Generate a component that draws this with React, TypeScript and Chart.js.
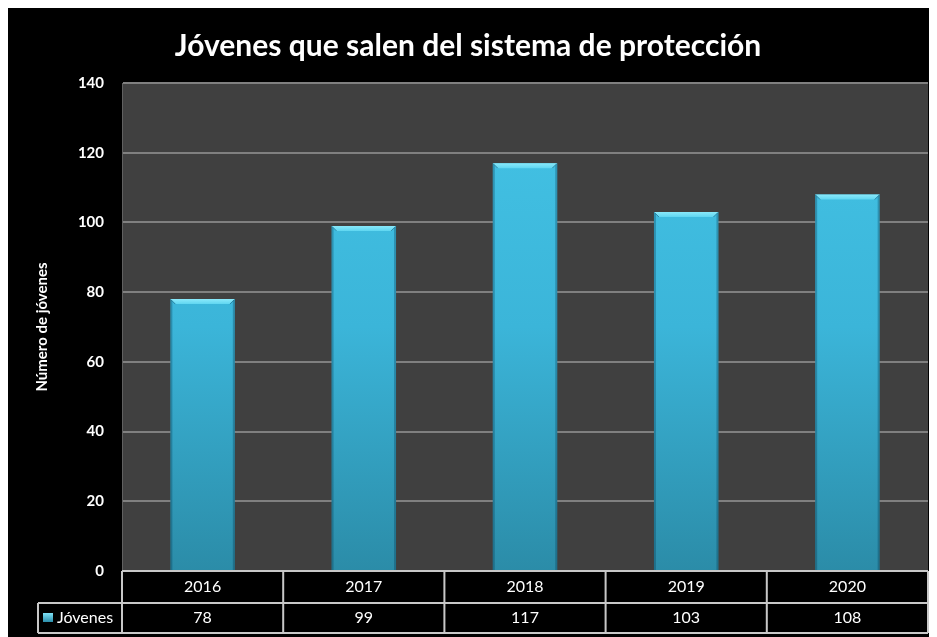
import React, { useEffect, useRef } from "react";
import { Chart, registerables } from "chart.js";

Chart.register(...registerables);

const titleText = "Jóvenes que salen del sistema de protección";
const yAxisTitle = "Número de jóvenes";
const seriesLabel = "Jóvenes";
const categories = ["2016", "2017", "2018", "2019", "2020"];
const jovenes = [78, 99, 117, 103, 108];
const yMin = 0;
const yMax = 140;
const yStep = 20;

const FONT = "Lato, 'Open Sans', sans-serif";

const backgroundPlugin = {
  id: "bgPlugin",
  beforeDraw(chart: any) {
    const { ctx, chartArea } = chart;
    ctx.save();
    ctx.fillStyle = "#000000";
    ctx.fillRect(0, 0, chart.width, chart.height);
    ctx.fillStyle = "#404040";
    ctx.fillRect(chartArea.left, chartArea.top, chartArea.right - chartArea.left, chartArea.bottom - chartArea.top);
    ctx.restore();
  },
};

const bevelPlugin = {
  id: "bevel",
  afterDatasetsDraw(chart: any) {
    const { ctx } = chart;
    const meta = chart.getDatasetMeta(0);
    ctx.save();
    meta.data.forEach((bar: any) => {
      const { x, y, base, width } = bar.getProps(["x", "y", "base", "width"], true);
      const l = x - width / 2;
      const r = x + width / 2;
      const b = 5;
      // side shading
      ctx.fillStyle = "rgba(0,40,60,0.28)";
      ctx.fillRect(l, y, 2, base - y);
      ctx.fillRect(r - 2, y, 2, base - y);
      // top bevel
      const g = ctx.createLinearGradient(0, y, 0, y + b);
      g.addColorStop(0, "#8ae9fa");
      g.addColorStop(1, "#5fd6f1");
      ctx.fillStyle = g;
      ctx.beginPath();
      ctx.moveTo(l, y);
      ctx.lineTo(r, y);
      ctx.lineTo(r - b, y + b);
      ctx.lineTo(l + b, y + b);
      ctx.closePath();
      ctx.fill();
      // diagonal corners
      ctx.strokeStyle = "rgba(20,90,120,0.6)";
      ctx.lineWidth = 1;
      ctx.beginPath();
      ctx.moveTo(l + 0.5, y + 0.5);
      ctx.lineTo(l + b, y + b);
      ctx.moveTo(r - 0.5, y + 0.5);
      ctx.lineTo(r - b, y + b);
      ctx.stroke();
    });
    ctx.restore();
  },
};

const tablePlugin = {
  id: "dataTable",
  afterDraw(chart: any) {
    const { ctx, chartArea } = chart;
    const x = chart.scales.x;
    const n = categories.length;
    const colW = (x.right - x.left) / n;
    const top = chartArea.bottom;
    const mid = top + 32;
    const bottom = top + 62;
    const legendLeft = 30;
    ctx.save();
    ctx.strokeStyle = "#c8c8c8";
    ctx.lineWidth = 2;
    ctx.beginPath();
    ctx.moveTo(x.left, top);
    ctx.lineTo(x.right, top);
    ctx.moveTo(legendLeft, mid);
    ctx.lineTo(x.right, mid);
    ctx.moveTo(legendLeft, bottom);
    ctx.lineTo(x.right, bottom);
    ctx.moveTo(legendLeft, mid);
    ctx.lineTo(legendLeft, bottom);
    for (let i = 0; i <= n; i++) {
      const cx = i === n ? x.right : x.getPixelForValue(i) - colW / 2;
      ctx.moveTo(cx, top);
      ctx.lineTo(cx, bottom);
    }
    ctx.stroke();

    ctx.fillStyle = "#ffffff";
    ctx.font = `16px ${FONT}`;
    ctx.textAlign = "center";
    ctx.textBaseline = "middle";
    for (let i = 0; i < n; i++) {
      const cx = x.getPixelForValue(i);
      ctx.fillText(categories[i], cx, top + 16);
      ctx.fillText(String(jovenes[i]), cx, mid + 15);
    }
    const g = ctx.createLinearGradient(0, mid + 10, 0, mid + 19);
    g.addColorStop(0, "#7fe3f7");
    g.addColorStop(1, "#2c8eab");
    ctx.fillStyle = g;
    ctx.fillRect(legendLeft + 5, mid + 10, 10, 9);
    ctx.fillStyle = "#ffffff";
    ctx.textAlign = "left";
    ctx.fillText(seriesLabel, legendLeft + 19, mid + 15);
    ctx.restore();
  },
};

export default function App() {
  const canvasRef = useRef<HTMLCanvasElement | null>(null);

  useEffect(() => {
    document.documentElement.style.overflow = "hidden";
    document.body.style.overflow = "hidden";
    const canvas = canvasRef.current;
    if (!canvas) return;
    const chart = new Chart(canvas, {
      type: "bar",
      data: {
        labels: categories,
        datasets: [
          {
            label: seriesLabel,
            data: jovenes,
            backgroundColor: (c: any) => {
              const area = c.chart.chartArea;
              if (!area) return "#3cb8dc";
              const g = c.chart.ctx.createLinearGradient(0, area.top, 0, area.bottom);
              g.addColorStop(0, "#44c4e6");
              g.addColorStop(0.5, "#3bb5d9");
              g.addColorStop(1, "#2b8ca8");
              return g;
            },
            borderWidth: 0,
            barPercentage: 0.4,
            categoryPercentage: 1,
          },
        ],
      },
      options: {
        responsive: false,
        animation: false,
        devicePixelRatio: 1,
        layout: { padding: { left: 0, right: 9, top: 0, bottom: 4 } },
        plugins: {
          legend: { display: false },
          tooltip: { enabled: false },
          title: {
            display: true,
            text: titleText,
            color: "#ffffff",
            font: { family: FONT, size: 30, weight: "bold", lineHeight: 1.2 },
            padding: { top: 20, bottom: 19 },
          },
        },
        scales: {
          x: {
            ticks: { display: false },
            grid: { display: false },
            border: { display: false },
            afterFit: (s: any) => {
              s.height = 62;
            },
          },
          y: {
            min: yMin,
            max: yMax,
            ticks: {
              stepSize: yStep,
              color: "#ffffff",
              padding: 18,
              font: { family: FONT, size: 15, weight: "bold" },
            },
            grid: { color: "#808080", lineWidth: 2, drawTicks: false },
            border: { display: true, color: "#606060", width: 1 },
            title: {
              display: true,
              text: yAxisTitle,
              color: "#ffffff",
              font: { family: FONT, size: 15, weight: "bold", lineHeight: 1.2 },
              padding: { top: 25, bottom: 0 },
            },
            afterFit: (s: any) => {
              s.width = 114;
            },
          },
        },
      },
      plugins: [backgroundPlugin, bevelPlugin, tablePlugin],
    } as any);
    return () => chart.destroy();
  }, []);

  return (
    <div style={{ width: 929, height: 629 }}>
      <canvas ref={canvasRef} width={929} height={629} style={{ display: "block", background: "#000" }} />
    </div>
  );
}
